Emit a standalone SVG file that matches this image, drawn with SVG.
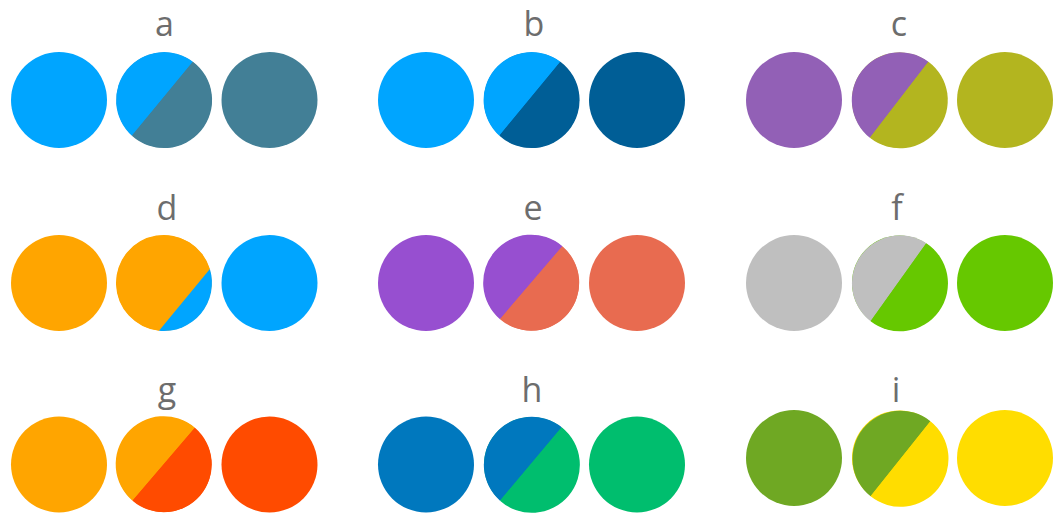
<svg xmlns="http://www.w3.org/2000/svg" width="1053" height="513" viewBox="0 0 1053 513">
<style>
.lbl{font-family:"Open Sans","Liberation Sans",sans-serif;font-size:34px;fill:#6d6d6d;text-anchor:middle}
</style>
<rect width="1053" height="513" fill="#ffffff"/>
<g id="a">
<text class="lbl" x="164.5" y="36">a</text>
<circle cx="59" cy="100" r="48" fill="#00a5ff"/>
<circle cx="164" cy="100" r="47.5" fill="#427f96"/>
<path d="M192.9,61.7 A48,48 0 0 0 131.9,135.7 Z" fill="#00a5ff"/>
<path d="M192.9,61.7 A48,48 0 1 1 131.9,135.7 Z" fill="#427f96"/>
<circle cx="269.5" cy="100" r="48" fill="#427f96"/>
</g>
<g id="b">
<text class="lbl" x="534" y="36">b</text>
<circle cx="426" cy="100" r="48" fill="#00a5ff"/>
<circle cx="531.5" cy="100" r="47.5" fill="#005e96"/>
<path d="M560.4,61.7 A48,48 0 0 0 499.4,135.7 Z" fill="#00a5ff"/>
<path d="M560.4,61.7 A48,48 0 1 1 499.4,135.7 Z" fill="#005e96"/>
<circle cx="637" cy="100" r="48" fill="#005e96"/>
</g>
<g id="c">
<text class="lbl" x="899" y="36">c</text>
<circle cx="794" cy="100" r="48" fill="#9260b6"/>
<circle cx="899.5" cy="100" r="47.5" fill="#b3b51f"/>
<path d="M928.4,61.7 A48,48 0 0 0 869.9,137.8 Z" fill="#9260b6"/>
<path d="M928.4,61.7 A48,48 0 1 1 869.9,137.8 Z" fill="#b3b51f"/>
<circle cx="1005" cy="100" r="48" fill="#b3b51f"/>
</g>
<g id="d">
<text class="lbl" x="167" y="219.5">d</text>
<circle cx="59" cy="283" r="48" fill="#ffa500"/>
<circle cx="164" cy="283" r="47.5" fill="#ffa500"/>
<path d="M209.9,269 A48,48 0 1 0 159,330.7 Z" fill="#ffa500"/>
<path d="M209.9,269 A48,48 0 0 1 159,330.7 Z" fill="#00a5ff"/>
<circle cx="269.5" cy="283" r="48" fill="#00a5ff"/>
</g>
<g id="e">
<text class="lbl" x="533" y="219.5">e</text>
<circle cx="426" cy="283" r="48" fill="#974fd0"/>
<circle cx="531.5" cy="283" r="47.5" fill="#e86b50"/>
<path d="M562.4,246.2 A48,48 0 0 0 500,319.2 Z" fill="#974fd0"/>
<path d="M562.4,246.2 A48,48 0 1 1 500,319.2 Z" fill="#e86b50"/>
<circle cx="637" cy="283" r="48" fill="#e86b50"/>
</g>
<g id="f">
<text class="lbl" x="897" y="219.5">f</text>
<circle cx="794" cy="283" r="48" fill="#bfbfbf"/>
<circle cx="899.5" cy="283" r="47.5" fill="#66c800"/>
<path d="M926.3,243.2 A48,48 0 0 0 870.6,321.3 Z" fill="#bfbfbf"/>
<path d="M926.3,243.2 A48,48 0 1 1 870.6,321.3 Z" fill="#66c800"/>
<circle cx="1005" cy="283" r="48" fill="#66c800"/>
</g>
<g id="g">
<text class="lbl" x="167" y="401.5">g</text>
<circle cx="59" cy="464.5" r="48" fill="#ffa500"/>
<circle cx="164" cy="464.5" r="47.5" fill="#ff4b00"/>
<path d="M194.9,427.7 A48,48 0 0 0 132.5,500.7 Z" fill="#ffa500"/>
<path d="M194.9,427.7 A48,48 0 1 1 132.5,500.7 Z" fill="#ff4b00"/>
<circle cx="269.5" cy="464.5" r="48" fill="#ff4b00"/>
</g>
<g id="h">
<text class="lbl" x="532" y="401.5">h</text>
<circle cx="426" cy="464.5" r="48" fill="#0078be"/>
<circle cx="531.5" cy="464.5" r="47.5" fill="#00be6e"/>
<path d="M561.7,427.2 A48,48 0 0 0 500,500.7 Z" fill="#0078be"/>
<path d="M561.7,427.2 A48,48 0 1 1 500,500.7 Z" fill="#00be6e"/>
<circle cx="637" cy="464.5" r="48" fill="#00be6e"/>
</g>
<g id="i">
<text class="lbl" x="896" y="401.5">i</text>
<circle cx="794" cy="458" r="48" fill="#6fa823"/>
<circle cx="899.5" cy="458" r="47.5" fill="#ffdd00"/>
<path d="M930.4,421.2 A48,48 0 0 0 870.6,496.3 Z" fill="#6fa823"/>
<path d="M930.4,421.2 A48,48 0 1 1 870.6,496.3 Z" fill="#ffdd00"/>
<circle cx="1005" cy="458" r="48" fill="#ffdd00"/>
</g>
<g id="connectors"></g>
</svg>
